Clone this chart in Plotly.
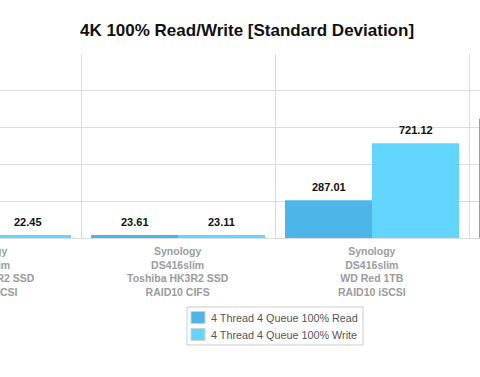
import plotly.graph_objects as go

categories = [
    "Synology<br>DS416slim<br>Toshiba HK3R2 SSD<br>RAID10 iSCSI",
    "Synology<br>DS416slim<br>Toshiba HK3R2 SSD<br>RAID10 CIFS",
    "Synology<br>DS416slim<br>WD Red 1TB<br>RAID10 iSCSI",
    "Synology<br>DS416slim<br>WD Red 1TB<br>RAID10 CIFS",
]
read_values = [None, 23.61, 287.01, 907.0]
write_values = [22.45, 23.11, 721.12, None]
series_names = ["4 Thread 4 Queue 100% Read", "4 Thread 4 Queue 100% Write"]
series_colors = ["#4cb6e8", "#62d6fe"]

W, H = 480, 377
PT, PB = 54, 238  # plot area top / bottom in px
x_range = [16 / 194, 496 / 194]


def py(px):  # pixel row -> paper y
    return (PB - px) / (PB - PT)


def pxx(px):  # pixel col -> paper x
    return px / W


xs = list(range(len(categories)))
fig = go.Figure()
for name, vals, col in zip(series_names, [read_values, write_values], series_colors):
    fig.add_bar(x=xs, y=vals, name=name, marker=dict(color=col, line=dict(width=0)), showlegend=False,
                hoverinfo="skip")

bargap = 20 / 194
half = (1 - bargap) / 4
annotations = []
shapes = []
for i, (r, w) in enumerate(zip(read_values, write_values)):
    for v, off in ((r, -half), (w, half)):
        if v is None:
            continue
        annotations.append(dict(x=i + off, y=v, xref="x", yref="y", text=f"<b>{v:.2f}</b>",
                                showarrow=False, yanchor="bottom", yshift=5,
                                font=dict(family="Liberation Sans, Arial", size=11, color="#111")))

# category labels (annotations in paper space so partially visible ones still show)
span = x_range[1] - x_range[0]
for i, cat in enumerate(categories):
    annotations.append(dict(x=(i - x_range[0]) / span, y=py(243), xref="paper", yref="paper",
                            text=f"<b>{cat}</b>", showarrow=False, xanchor="center", yanchor="top",
                            align="center",
                            font=dict(family="Liberation Sans, Arial", size=10.5, color="#9c9c9c")))

# custom legend
shapes.append(dict(type="rect", xref="paper", yref="paper", x0=pxx(187), x1=pxx(363), y0=py(307), y1=py(345),
                   line=dict(color="#cccccc", width=1), fillcolor="white", layer="above"))
for k, (name, col) in enumerate(zip(series_names, series_colors)):
    cy = 317.5 + k * 17
    shapes.append(dict(type="rect", xref="paper", yref="paper", x0=pxx(191), x1=pxx(205),
                       y0=py(cy - 6), y1=py(cy + 6), line=dict(color="#d0d0d0", width=1),
                       fillcolor=col, layer="above"))
    annotations.append(dict(x=pxx(209), y=py(cy), xref="paper", yref="paper", text=name,
                            showarrow=False, xanchor="left", yanchor="middle",
                            font=dict(family="Liberation Sans, Arial", size=10.8, color="#555555")))

fig.update_layout(
    width=W, height=H,
    margin=dict(l=0, r=0, t=PT, b=H - PB, autoexpand=False),
    paper_bgcolor="white", plot_bgcolor="white",
    barmode="group", bargap=bargap, bargroupgap=0,
    title=dict(text="<b>4K 100% Read/Write [Standard Deviation]</b>", x=247 / W, xanchor="center",
               y=1 - 30 / H, yanchor="middle",
               font=dict(family="Liberation Sans, Arial", size=17, color="#111")),
    showlegend=False,
    annotations=annotations,
    shapes=shapes,
    font=dict(family="Liberation Sans, Arial"),
    hovermode=False,
)
fig.update_xaxes(range=x_range, tickmode="array", tickvals=xs, ticktext=[""] * len(xs),
                 showgrid=False, zeroline=False, ticks="", showline=False, automargin=False,
                 minor=dict(tick0=0.5, dtick=1, showgrid=True, gridcolor="#dddddd", gridwidth=1, ticks=""))
fig.update_yaxes(range=[0, 1400], dtick=280, tick0=0, showticklabels=False, showgrid=True, automargin=False,
                 gridcolor="#dddddd", gridwidth=1, zeroline=True, zerolinecolor="#dddddd", zerolinewidth=1)

fig.write_html("out.html", config={"displayModeBar": False},
               post_script="document.body.style.margin='0';document.body.style.overflow='hidden';")
